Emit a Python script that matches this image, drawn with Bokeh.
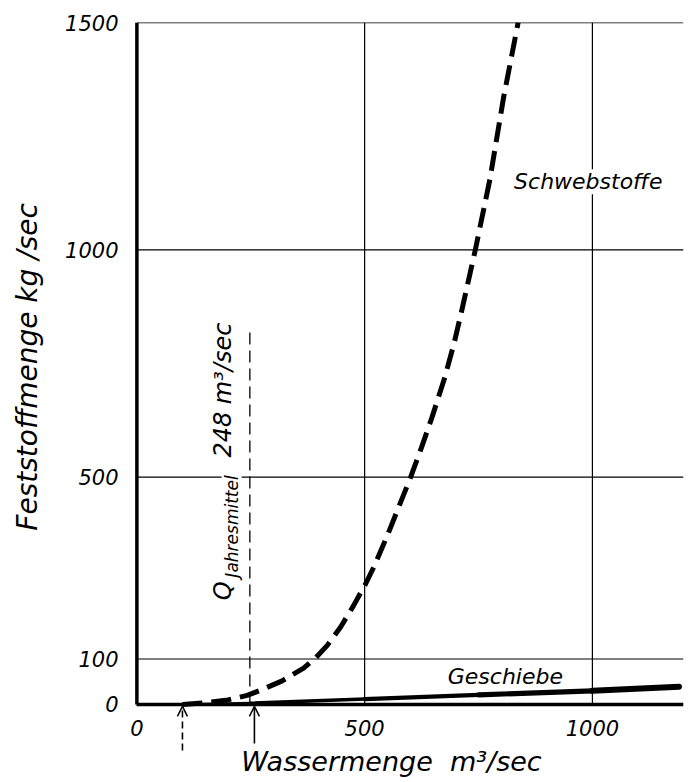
import numpy as np
from math import pi
from bokeh.plotting import figure
from bokeh.models import Range1d, FixedTicker, Label, Arrow, OpenHead
from bokeh.embed import file_html
from bokeh.resources import INLINE

# --- data ---
q_schweb = [100, 150, 200, 242, 271, 319, 366, 392, 418, 447, 476, 502, 520, 550,
            601, 623, 648, 674, 696, 714, 743, 775, 805, 837]
s_schweb = [0, 4, 10, 20, 31, 52, 80, 102, 130, 170, 218, 265, 302, 372,
            500, 560, 632, 713, 793, 870, 1000, 1155, 1335, 1500]
q_gesch = [100, 250, 500, 750, 1000, 1190]
s_gesch = [0, 3, 12, 21, 30, 39]
x_ticks = [0, 500, 1000]
y_ticks = [0, 100, 500, 1000, 1500]
x_grid = [500, 1000]
y_grid = [100, 500, 1000]
x_max = 1200
y_max = 1500
q_mean = 248
q_mean_top = 825
arrow_q = [100, 258]

FONT = "DejaVu Sans"

p = figure(width=688, height=782, output_backend="svg", toolbar_location=None,
           x_range=Range1d(-25, x_max), y_range=Range1d(-171.6, y_max),
           min_border_left=125, min_border_right=5, min_border_top=22,
           min_border_bottom=0)
p.outline_line_color = None
p.background_fill_color = "white"
p.border_fill_color = "white"

# grids (drawn as lines from the grid values)
p.xgrid.visible = False
p.ygrid.visible = False
p.segment(x0=x_grid, y0=[0] * len(x_grid), x1=x_grid, y1=[y_max] * len(x_grid),
          line_color="black", line_width=1.2)
p.segment(x0=[0] * len(y_grid), y0=y_grid, x1=[x_max] * len(y_grid), y1=y_grid,
          line_color="black", line_width=1.2)
p.segment(x0=[0], y0=[y_max], x1=[x_max], y1=[y_max], line_color="black", line_width=1.6)
# left axis line at Q = 0
p.segment(x0=[0], y0=[0], x1=[0], y1=[y_max], line_color="black", line_width=3.5)

# axes
xa = p.xaxis[0]
xa.fixed_location = 0
xa.ticker = FixedTicker(ticks=x_ticks)
xa.bounds = (0, x_max)
xa.axis_line_width = 3.5
xa.axis_line_color = "black"
ya = p.yaxis[0]
ya.ticker = FixedTicker(ticks=y_ticks)
ya.bounds = (0, y_max)
ya.axis_line_color = None
# leading no-break spaces lift the centred label to where the reference has it
ya.axis_label = "\u00a0" * 8 + "Feststoffmenge kg /sec"
ya.axis_label_text_font = FONT
ya.axis_label_text_font_style = "italic"
ya.axis_label_text_font_size = "28px"
ya.axis_label_text_color = "black"
ya.axis_label_standoff = 18
for ax in (xa, ya):
    ax.major_tick_out = 0
    ax.major_tick_in = 0
    ax.minor_tick_out = 0
    ax.minor_tick_in = 0
    ax.major_tick_line_color = None
    ax.minor_tick_line_color = None
    ax.major_label_text_font = FONT
    ax.major_label_text_font_style = "italic"
    ax.major_label_text_font_size = "21px"
    ax.major_label_text_color = "black"
xa.major_label_standoff = 16
ya.major_label_standoff = 7

# Schwebstoffe (dashed thick curve)
p.line(q_schweb, s_schweb, line_width=5, line_dash="20 9", line_color="black",
       line_join="round")

# Geschiebe (tapered solid line)
n = len(q_gesch) - 1
widths = list(np.linspace(2.5, 6, n))
p.segment(x0=q_gesch[:-1], y0=s_gesch[:-1], x1=q_gesch[1:], y1=s_gesch[1:],
          line_width=widths, line_cap="round", line_color="black")

# mean discharge line
p.segment(x0=[q_mean], y0=[0], x1=[q_mean], y1=[q_mean_top],
          line_dash="12 6", line_width=1.3, line_color="black")

# arrows under the axis
p.add_layout(Arrow(end=OpenHead(size=10, line_width=1.5), x_start=arrow_q[0], y_start=-101,
                   x_end=arrow_q[0], y_end=-4, line_dash="7 4", line_width=1.6))
p.add_layout(Arrow(end=OpenHead(size=10, line_width=1.5), x_start=arrow_q[1], y_start=-86,
                   x_end=arrow_q[1], y_end=-4, line_width=1.6))

def lab(x, y, text, size, angle=0, align="center", bg=None):
    kw = dict(x=x, y=y, text=text, text_font=FONT, text_font_style="italic",
              text_font_size=size, text_color="black", text_align=align,
              text_baseline="middle", angle=angle)
    if bg:
        kw["background_fill_color"] = bg
    p.add_layout(Label(**kw))

lab(991, 1150, "Schwebstoffe", "22px", bg="white")
lab(809, 62, "Geschiebe", "22px")
lab(559, -126, "Wassermenge\u00a0 m³/sec", "27px")
lab(188, 229, "Q", "24px", angle=pi / 2, align="left")
lab(208, 279, "Jahresmittel", "17px", angle=pi / 2, align="left", bg="white")
lab(188, 543, "248 m³/sec", "24px", angle=pi / 2, align="left")

open("out.html", "w").write(file_html(p, INLINE))
